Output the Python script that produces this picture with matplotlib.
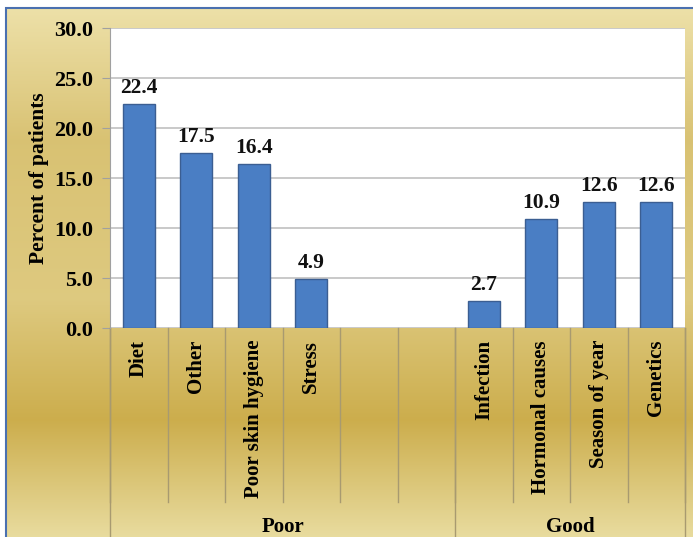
import numpy as np
import matplotlib.pyplot as plt
from matplotlib.colors import LinearSegmentedColormap
from matplotlib.patches import Rectangle

plt.rcParams['font.family'] = 'Liberation Serif'
plt.rcParams['font.weight'] = 'bold'

# data
categories = ['Diet', 'Other', 'Poor skin hygiene', 'Stress', '', '',
              'Infection', 'Hormonal causes', 'Season of year', 'Genetics']
values = [22.4, 17.5, 16.4, 4.9, None, None, 2.7, 10.9, 12.6, 12.6]
groups = ['Poor', 'Good']
group_sizes = [6, 4]
yticks = [0, 5, 10, 15, 20, 25, 30]

W, H = 693, 537
fig = plt.figure(figsize=(W / 100, H / 100), dpi=100)

# gold gradient background inside a blue frame
bg = fig.add_axes([6 / W, 0, 1 - 6 / W, 1 - 8 / H], zorder=0)
gold = LinearSegmentedColormap.from_list('gold', [
    (0.0, (0.93, 0.88, 0.66)),
    (0.25, (0.85, 0.76, 0.45)),
    (0.55, (0.87, 0.79, 0.50)),
    (0.78, (0.80, 0.68, 0.30)),
    (1.0, (0.91, 0.86, 0.62))])
grad = np.linspace(0, 1, 256).reshape(-1, 1)
bg.imshow(grad, cmap=gold, aspect='auto', extent=[0, 1, 1, 0])
bg.set_axis_off()
fig.patches.append(Rectangle((6 / W, -0.1), 1.2, 1 - 8 / H + 0.1,
                             transform=fig.transFigure, fill=False,
                             edgecolor='#4a70b0', linewidth=1.5, zorder=5))

ax = fig.add_axes([110 / W, 209 / H, 575 / W, 300 / H], zorder=2)
ax.set_facecolor('white')
x = np.arange(len(categories))
for xi, v in zip(x, values):
    if v is None:
        continue
    ax.bar(xi, v, width=0.56, color='#4a7ec4', edgecolor='#3b5e92', linewidth=1, zorder=3)
    ax.text(xi, v + 0.6, f'{v:.1f}', ha='center', va='bottom', fontsize=15.5,
            fontweight='bold', color='#111111')

ax.set_xlim(-0.5, len(categories) - 0.5)
ax.set_ylim(0, 30)
ax.set_yticks(yticks)
ax.set_yticklabels([f'{t:.1f}' for t in yticks], fontsize=16, fontweight='bold')
ax.yaxis.grid(True, color='#c0c0c0', linewidth=1.2)
ax.set_axisbelow(True)
ax.set_xticks([])
for s in ['top', 'right', 'bottom']:
    ax.spines[s].set_visible(False)
ax.spines['left'].set_color('#a0a0a0')
ax.tick_params(axis='y', length=6, color='#a0a0a0', pad=6)
ax.set_ylabel('Percent of patients', fontsize=15.5, fontweight='bold')
ax.yaxis.set_label_coords(-0.106, 0.5)

# category labels and separators
trans = ax.get_xaxis_transform()
for i, c in enumerate(categories):
    ax.text(i, -0.04, c, rotation=90, ha='center', va='top', fontsize=15,
            fontweight='bold', transform=trans, clip_on=False)
for i in range(len(categories) + 1):
    ax.plot([i - 0.5, i - 0.5], [0, -0.58], color='#a89a70', linewidth=1,
            transform=trans, clip_on=False)

start = 0
for g, n in zip(groups, group_sizes):
    ax.plot([start - 0.5, start - 0.5], [0, -0.75], color='#a89a70', linewidth=1,
            transform=trans, clip_on=False)
    ax.text(start + n / 2 - 0.5, -0.663, g, ha='center', va='center', fontsize=15,
            fontweight='bold', transform=trans, clip_on=False)
    start += n
ax.plot([start - 0.5, start - 0.5], [0, -0.75], color='#a89a70', linewidth=1,
        transform=trans, clip_on=False)

fig.savefig('out.png', dpi=100)
